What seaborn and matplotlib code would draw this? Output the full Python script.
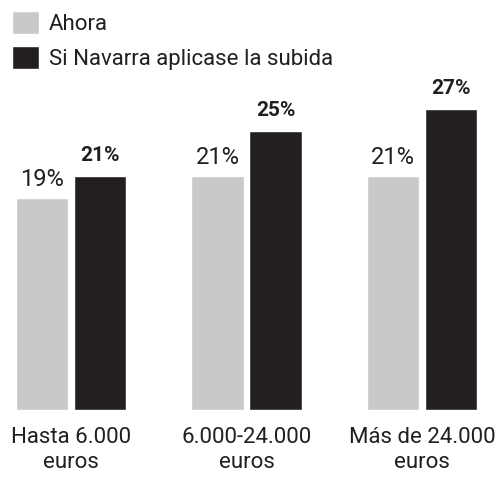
import matplotlib
matplotlib.use("Agg")
import matplotlib.pyplot as plt
import pandas as pd
import seaborn as sns

# Data
categorias = ["Hasta 6.000\neuros", "6.000-24.000\neuros", "Más de 24.000\neuros"]
ahora = [19, 21, 21]
subida = [21, 25, 27]
series = ["Ahora", "Si Navarra aplicase la subida"]

gris = "#c8c9cb"
negro = "#231f20"

sns.set_style("white")
plt.rcParams["font.family"] = ["Roboto", "DejaVu Sans"]

df = pd.DataFrame({
    "categoria": categorias * 2,
    "valor": ahora + subida,
    "serie": [series[0]] * 3 + [series[1]] * 3,
})

fig = plt.figure(figsize=(4.97, 4.79), dpi=100)
ax = fig.add_axes([0, 69 / 479, 1, 410 / 479])

sns.barplot(data=df, x="categoria", y="valor", hue="serie",
            palette=[gris, negro], width=0.66, gap=0.1,
            saturation=1, ax=ax, legend=True)

ax.set_xlim(-71 / 175.5, (497 - 71) / 175.5)
ax.set_ylim(0, 410 / 11.15)

# value labels
off = 0.66 / 4
for i, v in enumerate(ahora):
    ax.annotate(f"{v}%", (i - off, v), xytext=(0, 5), textcoords="offset points",
                ha="center", va="bottom", fontsize=17, color=negro)
for i, v in enumerate(subida):
    ax.annotate(f"{v}%", (i + off, v), xytext=(0, 8), textcoords="offset points",
                ha="center", va="bottom", fontsize=15, fontweight="bold", color=negro)

ax.set_xlabel("")
ax.set_ylabel("")
ax.set_yticks([])
ax.tick_params(axis="x", length=0, labelsize=16, pad=12, colors=negro)
for lbl in ax.get_xticklabels():
    lbl.set_linespacing(1.3)
sns.despine(ax=ax, left=True, bottom=True, top=True, right=True)

handles, labels = ax.get_legend_handles_labels()
ax.get_legend().remove()
leg = fig.legend(handles, labels, loc="upper left",
                 bbox_to_anchor=(8 / 497, 1 - 7 / 479),
                 frameon=False, fontsize=16, handlelength=1.2, handleheight=1.2,
                 handletextpad=0.45, labelspacing=0.5, borderaxespad=0, borderpad=0.2)
for t in leg.get_texts():
    t.set_color(negro)

fig.savefig("out.png", dpi=100)
